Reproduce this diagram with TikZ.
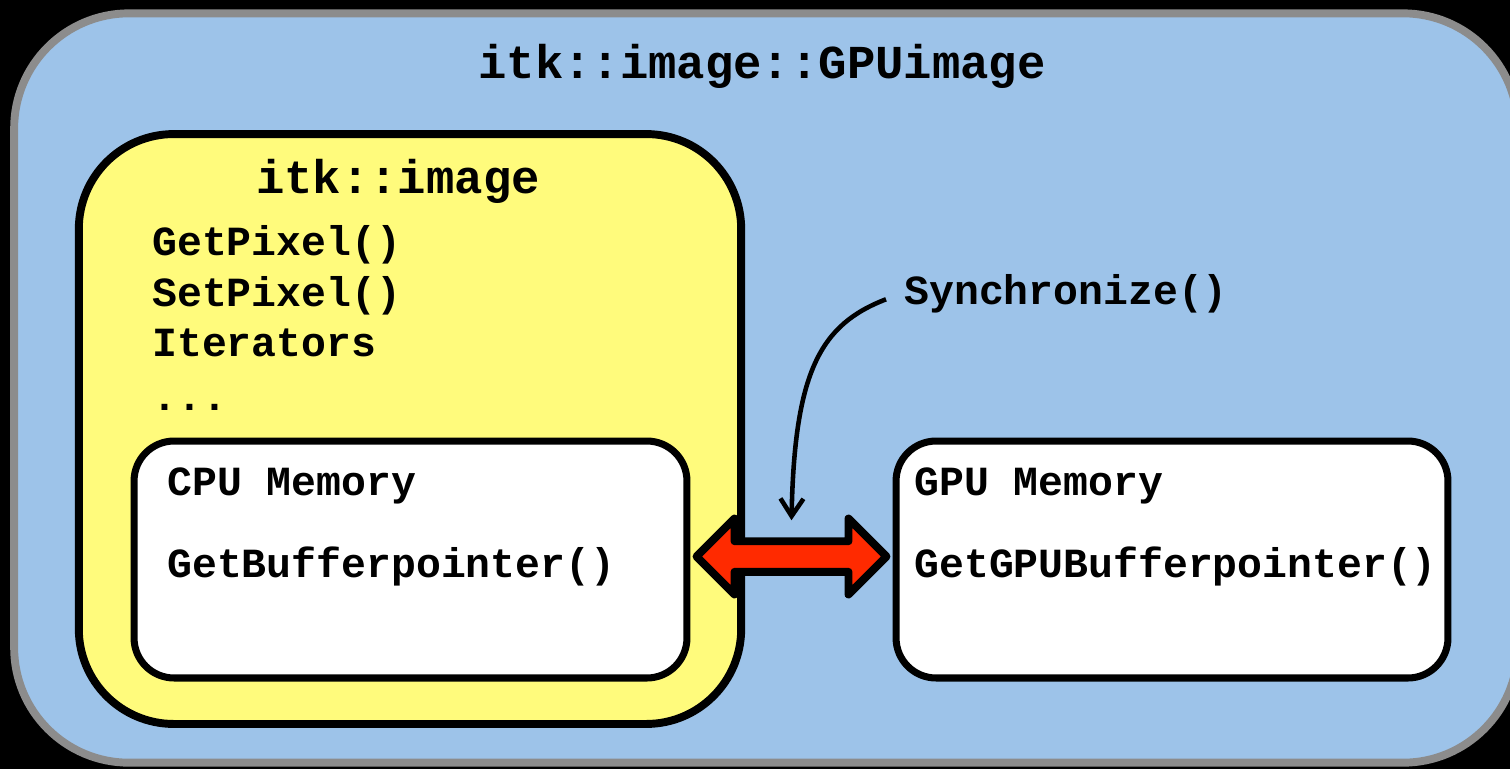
\documentclass[tikz,border=0pt]{standalone}
\usepackage{fontspec}
\setmonofont{Liberation Mono}
\usetikzlibrary{calc,arrows.meta,shapes.arrows}
\definecolor{bg}{HTML}{000000}
\definecolor{frame}{HTML}{8C8C8C}
\definecolor{outerfill}{HTML}{9DC3E9}
\definecolor{classfill}{HTML}{FFFB7C}
\definecolor{memfill}{HTML}{FFFFFF}
\definecolor{syncred}{HTML}{FF2A00}
\tikzset{
  outerbox/.style={draw=frame, fill=outerfill, line width=4.5pt, rounded corners=2.3cm},
  classbox/.style={draw=black, fill=classfill, line width=4.5pt, rounded corners=1.9cm},
  membox/.style={draw=black, fill=memfill, line width=4pt, rounded corners=0.8cm},
  title/.style={font=\ttfamily\bfseries\fontsize{26.9}{32}\selectfont, inner sep=0pt, anchor=base},
  lab/.style={font=\ttfamily\bfseries\fontsize{23.6}{28}\selectfont, inner sep=0pt, anchor=base west},
  bigarrow/.style={double arrow, draw=black, fill=syncred, line width=4.5pt, line join=round,
    minimum height=3.8cm, minimum width=1.52cm, double arrow head extend=0.34cm,
    inner xsep=0pt, inner ysep=0.15cm},
  syncline/.style={draw=black, line width=2.6pt, -{Straight Barb[length=0.35cm,width=0.46cm]}},
}

\begin{document}
\begin{tikzpicture}[x=0.02cm, y=-0.02cm]
  \useasboundingbox (0,0) rectangle (1510,769);
  \clip (0,0) rectangle (1510,769);
  \fill[bg] (0,0) rectangle (1510,769);

  % boxes
  \node[outerbox, minimum width=30.08cm, minimum height=14.99cm] (gpuimg) at (766,388) {};
  \node[classbox, minimum width=13.25cm, minimum height=11.8cm] (itkimg) at (410,429) {};
  \node[membox, minimum width=11.06cm, minimum height=4.74cm] (cpu) at (410.5,559.5) {};
  \node[membox, minimum width=11.04cm, minimum height=4.74cm] (gpu) at (1172,559.5) {};

  % texts
  \node[title] (gputitle) at (762,78) {itk::image::GPUimage};
  \node[title] (cputitle) at (398,193) {itk::image};
  \node[lab] (getpix) at (152,255) {GetPixel()};
  \node[lab] (setpix) at (152,306) {SetPixel()};
  \node[lab] (iters) at (152,356) {Iterators};
  \node[lab] (etc) at (152,410) {...};
  \node[lab] (cpulab) at (167,495) {CPU Memory};
  \node[lab] (cpubuf) at (167,577) {GetBufferpointer()};
  \node[lab] (gpulab) at (914,495) {GPU Memory};
  \node[lab] (gpubuf) at (914,577) {GetGPUBufferpointer()};
  \node[lab] (synclab) at (904,304) {Synchronize()};

  % transfer
  \node[bigarrow] (sync) at ($(cpu.east)!0.5!(gpu.west)+(0,-3)$) {};
  \draw[syncline] ([shift={(-18,6)}]synclab.west) .. controls +(-65,25) and +(3,-150) .. ([shift={(0,-17)}]sync.north);
\end{tikzpicture}
\end{document}
